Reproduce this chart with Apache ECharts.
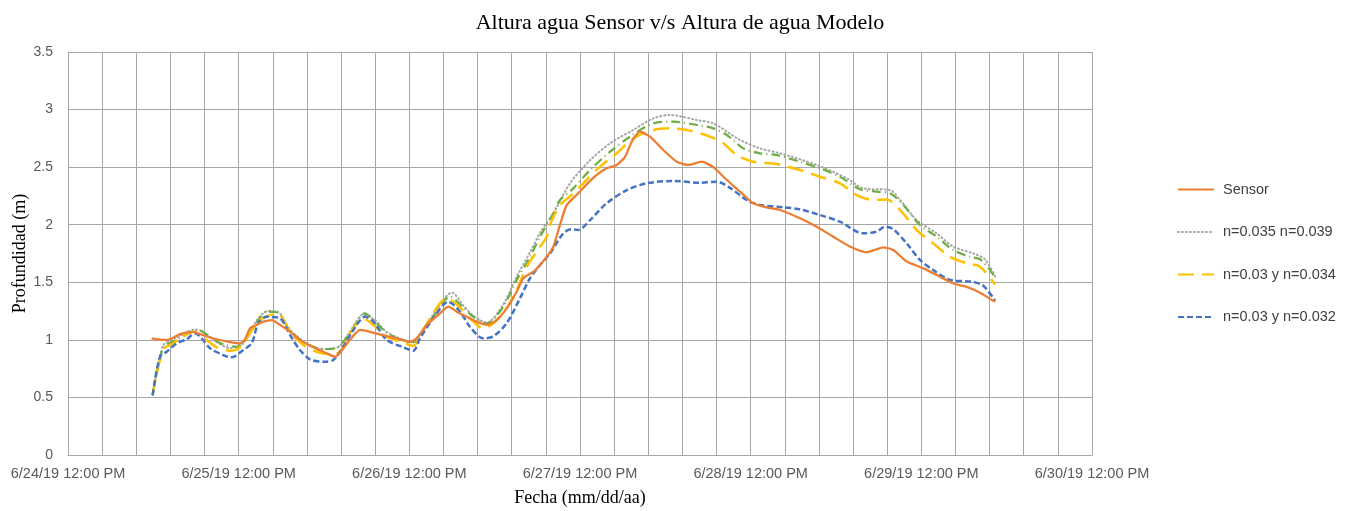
<!DOCTYPE html>
<html>
<head>
<meta charset="utf-8">
<script src="https://cdn.jsdelivr.net/npm/echarts@6/dist/echarts.min.js"></script>
<style>
html,body{margin:0;padding:0;background:#fff;}
#chart{width:1360px;height:511px;}
</style>
</head>
<body>
<div id="chart"></div>
<script>
// x values: days since 6/24/19 12:00 PM
const xTickLabels = ['6/24/19 12:00 PM','6/25/19 12:00 PM','6/26/19 12:00 PM','6/27/19 12:00 PM','6/28/19 12:00 PM','6/29/19 12:00 PM','6/30/19 12:00 PM'];
const seriesNames = ['Sensor','n=0.035 n=0.039','n=0.03 y n=0.034','n=0.03 y n=0.032','n=0.035 y n=0.036'];

const sensorDays = [0.490,0.558,0.598,0.656,0.734,0.793,0.871,0.949,1.008,1.037,1.066,1.106,1.144,1.194,1.242,1.301,1.359,1.437,1.516,1.564,1.594,1.652,1.711,1.770,1.847,1.926,2.004,2.043,2.102,2.180,2.228,2.278,2.336,2.395,2.453,2.512,2.570,2.629,2.668,2.726,2.766,2.805,2.844,2.883,2.922,2.981,3.039,3.098,3.156,3.215,3.264,3.303,3.352,3.410,3.488,3.567,3.635,3.713,3.781,3.860,3.938,4.015,4.094,4.172,4.289,4.387,4.484,4.582,4.680,4.777,4.836,4.914,5.012,5.109,5.187,5.266,5.344,5.432];
const sensorDepth = [1.013,1.00,1.005,1.05,1.07,1.04,1.005,0.98,0.97,1.005,1.10,1.13,1.158,1.172,1.13,1.07,1.0,0.935,0.883,0.854,0.889,1.0,1.086,1.07,1.04,1.013,0.984,1.013,1.13,1.23,1.288,1.245,1.2,1.158,1.13,1.172,1.274,1.418,1.535,1.59,1.65,1.72,1.81,2.0,2.17,2.26,2.35,2.432,2.49,2.519,2.59,2.72,2.808,2.765,2.649,2.547,2.519,2.547,2.50,2.388,2.287,2.186,2.15,2.128,2.056,1.983,1.896,1.81,1.76,1.804,1.78,1.68,1.621,1.549,1.49,1.46,1.41,1.33];

const greyDays = [0.496,0.558,0.637,0.744,0.803,0.871,0.949,1.027,1.106,1.172,1.232,1.301,1.379,1.457,1.535,1.594,1.664,1.730,1.799,1.867,1.965,2.023,2.062,2.140,2.250,2.316,2.375,2.453,2.551,2.629,2.707,2.766,2.844,2.942,3.059,3.176,3.312,3.430,3.527,3.684,3.781,3.938,4.055,4.172,4.387,4.563,4.660,4.816,4.875,4.973,5.090,5.187,5.305,5.373,5.432];
const greyDepth = [0.52,0.95,1.02,1.09,1.06,0.98,0.93,0.97,1.17,1.25,1.24,1.09,0.99,0.93,0.92,0.95,1.10,1.22,1.17,1.07,1.0,0.99,1.05,1.22,1.41,1.30,1.21,1.15,1.31,1.55,1.76,1.93,2.10,2.36,2.56,2.707,2.823,2.924,2.953,2.909,2.88,2.736,2.663,2.62,2.519,2.403,2.316,2.30,2.215,2.04,1.925,1.81,1.75,1.70,1.55];

const yellowDays = [0.496,0.558,0.617,0.676,0.734,0.793,0.871,0.949,1.008,1.066,1.125,1.184,1.232,1.301,1.379,1.457,1.535,1.594,1.652,1.730,1.789,1.867,1.965,2.023,2.062,2.121,2.219,2.297,2.375,2.433,2.492,2.570,2.629,2.688,2.746,2.805,2.824,2.883,2.951,3.019,3.117,3.215,3.312,3.430,3.527,3.625,3.762,3.840,3.918,4.015,4.152,4.289,4.406,4.523,4.621,4.719,4.797,4.875,4.973,5.070,5.168,5.266,5.344,5.432];
const yellowDepth = [0.52,0.916,0.97,1.03,1.07,1.02,0.935,0.906,0.935,1.057,1.172,1.215,1.225,1.07,0.955,0.897,0.874,0.897,1.057,1.187,1.13,1.027,0.976,0.947,1.027,1.187,1.36,1.28,1.158,1.10,1.144,1.274,1.433,1.635,1.766,1.896,2.0,2.17,2.258,2.36,2.504,2.62,2.75,2.823,2.837,2.823,2.765,2.707,2.605,2.547,2.527,2.475,2.417,2.36,2.258,2.215,2.22,2.128,1.954,1.838,1.722,1.665,1.636,1.48];

const blueDays = [0.496,0.539,0.578,0.637,0.695,0.744,0.783,0.832,0.910,0.959,1.027,1.076,1.115,1.164,1.242,1.301,1.359,1.418,1.496,1.554,1.613,1.672,1.740,1.789,1.867,1.965,2.023,2.062,2.140,2.228,2.297,2.355,2.433,2.492,2.570,2.648,2.707,2.766,2.824,2.902,2.951,2.990,3.059,3.156,3.274,3.391,3.547,3.703,3.801,3.879,3.977,4.055,4.191,4.289,4.406,4.523,4.660,4.738,4.787,4.836,4.914,4.992,5.070,5.168,5.295,5.363,5.432];
const blueDepth = [0.52,0.854,0.897,0.97,1.005,1.057,1.013,0.927,0.868,0.848,0.912,0.97,1.144,1.2,1.187,1.042,0.912,0.831,0.81,0.825,0.94,1.086,1.2,1.158,1.0,0.935,0.906,1.013,1.187,1.33,1.245,1.114,1.013,1.03,1.144,1.36,1.535,1.65,1.75,1.925,1.96,1.955,2.04,2.186,2.30,2.36,2.38,2.365,2.374,2.32,2.215,2.171,2.151,2.134,2.084,2.026,1.925,1.94,1.983,1.96,1.838,1.694,1.607,1.52,1.505,1.47,1.34];

const greenDays = [0.496,0.558,0.637,0.715,0.773,0.832,0.910,0.988,1.066,1.125,1.164,1.223,1.301,1.379,1.457,1.496,1.574,1.652,1.740,1.799,1.867,1.985,2.023,2.062,2.140,2.238,2.316,2.375,2.453,2.551,2.629,2.707,2.766,2.844,2.883,2.961,3.059,3.176,3.293,3.430,3.547,3.684,3.781,3.860,3.957,4.055,4.152,4.289,4.406,4.523,4.641,4.738,4.816,4.895,4.992,5.090,5.187,5.285,5.344,5.402,5.432];
const greenDepth = [0.52,0.93,1.0,1.06,1.08,1.02,0.96,0.94,1.06,1.19,1.245,1.24,1.08,0.98,0.93,0.92,0.93,1.06,1.23,1.16,1.06,0.984,0.98,1.04,1.2,1.375,1.28,1.20,1.144,1.29,1.52,1.72,1.896,2.10,2.215,2.316,2.475,2.634,2.765,2.88,2.895,2.866,2.837,2.779,2.663,2.62,2.605,2.547,2.49,2.417,2.308,2.287,2.273,2.171,1.997,1.896,1.78,1.722,1.70,1.607,1.54];

const yTicks = [0, 0.5, 1, 1.5, 2, 2.5, 3, 3.5];

function pairs(xs, ys) { return xs.map((x, i) => [x, ys[i]]); }

const chart = echarts.init(document.getElementById('chart'), null, {renderer: 'canvas'});
const gridColor = '#a6a6a6';
const labelFont = '"Liberation Sans", "DejaVu Sans", sans-serif';
const serifFont = '"Liberation Serif", "DejaVu Serif", serif';

chart.setOption({
  animation: false,
  backgroundColor: '#ffffff',
  title: {
    text: 'Altura agua Sensor v/s Altura de agua Modelo',
    left: 'center',
    top: 7,
    textStyle: {fontFamily: serifFont, fontSize: 22, fontWeight: 'normal', color: '#000'}
  },
  legend: {
    data: seriesNames.slice(0, 4),
    orient: 'vertical',
    left: 1172,
    top: 177,
    itemWidth: 36,
    itemHeight: 14,
    itemGap: 27.5,
    itemStyle: {opacity: 0},
    textStyle: {fontFamily: labelFont, fontSize: 14.5, color: '#404040', padding: [0, 0, 0, 4]}
  },
  grid: {left: 68, right: 268, top: 52, bottom: 56, containLabel: false, outerBoundsMode: 'none'},
  xAxis: {
    type: 'value',
    min: 0, max: 6, interval: 0.2,
    name: 'Fecha (mm/dd/aa)',
    nameLocation: 'middle',
    nameGap: 34,
    nameMoveOverlap: false,
    nameTextStyle: {fontFamily: serifFont, fontSize: 18, color: '#000'},
    axisLine: {show: true, lineStyle: {color: gridColor, width: 1}},
    axisTick: {show: false},
    splitLine: {show: true, lineStyle: {color: gridColor, width: 1}},
    axisLabel: {
      margin: 11,
      fontFamily: labelFont, fontSize: 14.5, color: '#595959',
      showMinLabel: true, showMaxLabel: true,
      formatter: function (v) {
        const r = Math.round(v);
        if (Math.abs(v - r) < 1e-6 && r >= 0 && r < xTickLabels.length) return xTickLabels[r];
        return '';
      }
    }
  },
  yAxis: {
    type: 'value',
    min: yTicks[0], max: yTicks[yTicks.length - 1], interval: 0.5,
    name: 'Profundidad (m)',
    nameLocation: 'middle',
    nameGap: 39,
    nameMoveOverlap: false,
    nameTextStyle: {fontFamily: serifFont, fontSize: 18, color: '#000'},
    axisLine: {show: true, lineStyle: {color: gridColor, width: 1}},
    axisTick: {show: false},
    splitLine: {show: true, lineStyle: {color: gridColor, width: 1}},
    axisLabel: {margin: 15, fontFamily: labelFont, fontSize: 14, color: '#595959'}
  },
  series: [
    {
      name: seriesNames[1], type: 'line', data: pairs(greyDays, greyDepth),
      showSymbol: false, symbol: 'none', smooth: 0.3, z: 2,
      lineStyle: {color: '#a5a5a5', width: 2, type: [1, 3], cap: 'round'},
      itemStyle: {color: '#a5a5a5'}
    },
    {
      name: seriesNames[4], type: 'line', data: pairs(greenDays, greenDepth),
      showSymbol: false, symbol: 'none', smooth: 0.3, z: 3,
      lineStyle: {color: '#70ad47', width: 2.25, type: [9, 4, 1, 4]},
      itemStyle: {color: '#70ad47'}
    },
    {
      name: seriesNames[2], type: 'line', data: pairs(yellowDays, yellowDepth),
      showSymbol: false, symbol: 'none', smooth: 0.3, z: 4,
      lineStyle: {color: '#ffc000', width: 2.5, type: [16, 8]},
      itemStyle: {color: '#ffc000'}
    },
    {
      name: seriesNames[3], type: 'line', data: pairs(blueDays, blueDepth),
      showSymbol: false, symbol: 'none', smooth: 0.3, z: 5,
      lineStyle: {color: '#4472c4', width: 2.5, type: [6, 3]},
      itemStyle: {color: '#4472c4'}
    },
    {
      name: seriesNames[0], type: 'line', data: pairs(sensorDays, sensorDepth),
      showSymbol: false, symbol: 'none', smooth: 0.2, z: 6,
      lineStyle: {color: '#ed7d31', width: 2.25, type: 'solid'},
      itemStyle: {color: '#ed7d31'}
    }
  ]
});
</script>
</body>
</html>
